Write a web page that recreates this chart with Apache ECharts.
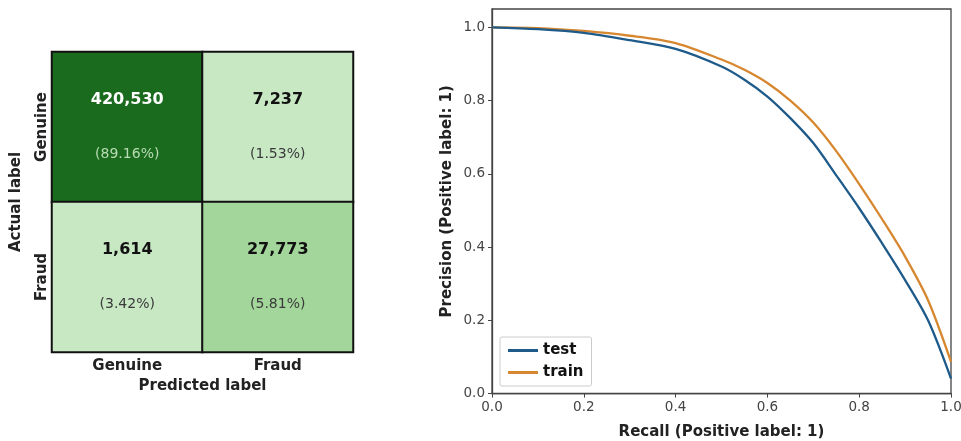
<!DOCTYPE html>
<html><head><meta charset="utf-8">
<script src="https://cdn.jsdelivr.net/npm/echarts@6/dist/echarts.min.js"></script>
<style>html,body{margin:0;padding:0;background:#fff}#c{width:961px;height:441px}</style>
</head><body><div id="c"></div>
<script>
// Confusion matrix
const predLabels = ['Genuine', 'Fraud'];
const actualLabels = ['Genuine', 'Fraud'];
const cmCounts = [[420530, 7237], [1614, 27773]]; // rows: actual, cols: predicted
const cmPercents = [['89.16%', '1.53%'], ['3.42%', '5.81%']];

// Precision-recall curves
const recallPts =   [0, 0.1, 0.2, 0.3, 0.4, 0.5, 0.55, 0.6, 0.65, 0.7, 0.75, 0.8, 0.85, 0.9, 0.95, 1.0];
const testPrec =    [1.0, 0.995, 0.985, 0.965, 0.941, 0.893, 0.857, 0.811, 0.752, 0.684, 0.596, 0.506, 0.410, 0.310, 0.200, 0.041];
const trainPrec =   [1.0, 0.998, 0.990, 0.977, 0.957, 0.912, 0.884, 0.848, 0.800, 0.740, 0.662, 0.572, 0.476, 0.374, 0.255, 0.087];

const heatData = [];
for (let r = 0; r < 2; r++) for (let c = 0; c < 2; c++) {
  heatData.push([c, r, cmCounts[r][c], cmPercents[r][c]]);
}
const fmt = n => n.toLocaleString('en-US');
const FONT = 'DejaVu Sans';
const labelStyle = {fontFamily: FONT, fontWeight: 'bold', fontSize: 15, color: '#222'};

const chart = echarts.init(document.getElementById('c'), null, {renderer: 'canvas'});
chart.setOption({
  animation: false,
  textStyle: {fontFamily: FONT},
  grid: [
    {left: 52, top: 52, width: 301, height: 300, outerBoundsMode: 'none', containLabel: false},
    {left: 492, top: 9, width: 459, height: 384.6, show: true, borderColor: '#444', borderWidth: 1.3,
     backgroundColor: 'transparent', outerBoundsMode: 'none', containLabel: false}
  ],
  visualMap: {
    type: 'piecewise', show: false, seriesIndex: 0, dimension: 2,
    pieces: [
      {max: 10000, color: '#c8e8c4'},
      {min: 10000, max: 100000, color: '#a3d69b'},
      {min: 100000, color: '#1b6b1f'}
    ]
  },
  xAxis: [
    {gridIndex: 0, type: 'category', data: predLabels, position: 'bottom',
     axisLine: {show: false}, axisTick: {show: false}, splitLine: {show: false},
     axisLabel: Object.assign({margin: 7}, labelStyle),
     name: 'Predicted label', nameLocation: 'middle', nameGap: 23,
     nameTextStyle: labelStyle},
    {gridIndex: 1, type: 'value', min: 0, max: 1, interval: 0.2,
     axisLine: {show: true, lineStyle: {color: '#444', width: 1.3}},
     axisTick: {show: true, length: 4, lineStyle: {color: '#444'}},
     splitLine: {show: false},
     axisLabel: {fontFamily: FONT, fontSize: 13.5, color: '#444', margin: 7, formatter: v => v.toFixed(1)},
     name: 'Recall (Positive label: 1)', nameLocation: 'middle', nameGap: 31,
     nameTextStyle: labelStyle}
  ],
  yAxis: [
    {gridIndex: 0, type: 'category', data: actualLabels, inverse: true,
     axisLine: {show: false}, axisTick: {show: false}, splitLine: {show: false},
     axisLabel: Object.assign({rotate: 90, margin: 2}, labelStyle),
     name: 'Actual label', nameLocation: 'middle', nameGap: 28, nameRotate: 90,
     nameTextStyle: labelStyle},
    {gridIndex: 1, type: 'value', min: 0, max: 1.05, interval: 0.2,
     axisLine: {show: true, lineStyle: {color: '#444', width: 1.3}},
     axisTick: {show: true, length: 4, lineStyle: {color: '#444'}},
     splitLine: {show: false},
     axisLabel: {fontFamily: FONT, fontSize: 13.5, color: '#444', margin: 7, showMaxLabel: false, formatter: v => v.toFixed(1)},
     name: 'Precision (Positive label: 1)', nameLocation: 'middle', nameGap: 37, nameRotate: 90,
     nameTextStyle: labelStyle}
  ],
  legend: {
    data: ['test', 'train'], orient: 'vertical', left: 500, top: 337,
    backgroundColor: '#fff', borderColor: '#ccc', borderWidth: 1, borderRadius: 2,
    padding: [6, 8, 6, 8], itemGap: 7, itemWidth: 30, itemHeight: 3, icon: 'rect',
    textStyle: {fontFamily: FONT, fontWeight: 'bold', fontSize: 15, color: '#111'}
  },
  series: [
    {type: 'heatmap', xAxisIndex: 0, yAxisIndex: 0,
     data: heatData,
     itemStyle: {borderColor: '#111', borderWidth: 2},
     label: {show: true,
       formatter: p => {
         const dark = p.value[2] > 100000;
         return (dark ? '{vw|' : '{v|') + fmt(p.value[2]) + '}\n{g|}\n' + (dark ? '{pw|' : '{p|') + '(' + p.value[3] + ')}';
       },
       rich: {
         v: {fontFamily: FONT, fontWeight: 'bold', fontSize: 16, color: '#111', lineHeight: 20},
         vw: {fontFamily: FONT, fontWeight: 'bold', fontSize: 16, color: '#fff', lineHeight: 20},
         g: {lineHeight: 35, fontSize: 1},
         p: {fontFamily: FONT, fontSize: 14, color: '#3a3a3a', lineHeight: 20},
         pw: {fontFamily: FONT, fontSize: 14, color: '#b8dcb4', lineHeight: 20}
       }},
     emphasis: {disabled: true}
    },
    {type: 'line', name: 'test', xAxisIndex: 1, yAxisIndex: 1, symbol: 'none', smooth: 0.3,
     data: recallPts.map((r, i) => [r, testPrec[i]]),
     lineStyle: {color: '#1f5b8a', width: 2.3}, itemStyle: {color: '#1f5b8a'}, z: 3},
    {type: 'line', name: 'train', xAxisIndex: 1, yAxisIndex: 1, symbol: 'none', smooth: 0.3,
     data: recallPts.map((r, i) => [r, trainPrec[i]]),
     lineStyle: {color: '#d6872f', width: 2.3}, itemStyle: {color: '#d6872f'}, z: 2}
  ]
});
</script>
</body></html>
